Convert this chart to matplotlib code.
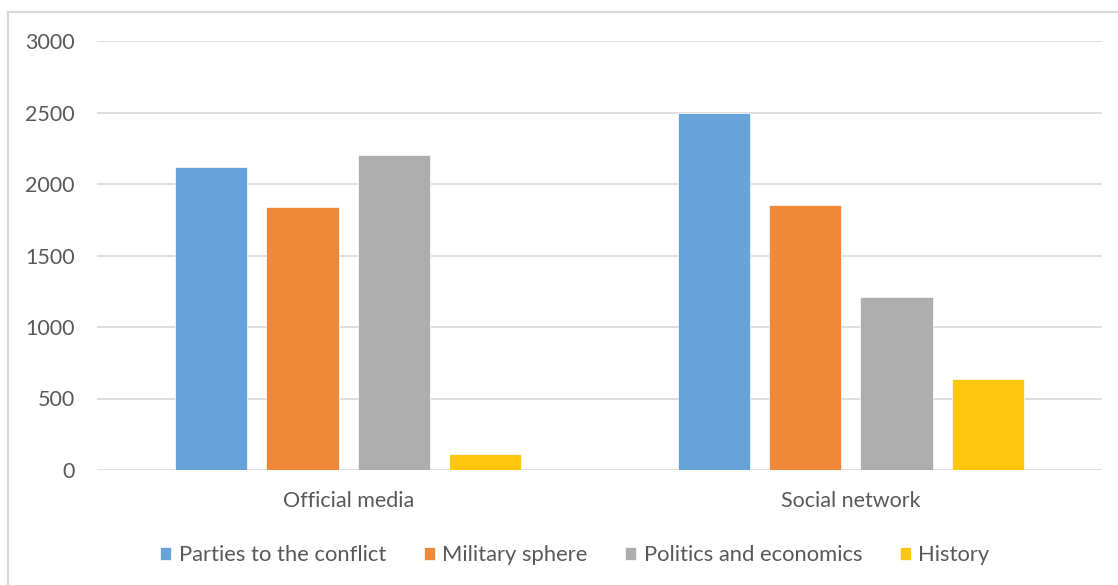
import matplotlib
matplotlib.use("Agg")
import matplotlib.pyplot as plt
import numpy as np
from matplotlib.lines import Line2D

categories = ["Official media", "Social network"]
series_names = ["Parties to the conflict", "Military sphere", "Politics and economics", "History"]
parties = [2120, 2500]
military = [1840, 1855]
politics = [2205, 1210]
history = [115, 635]
yticks = [0, 500, 1000, 1500, 2000, 2500, 3000]

colors = ["#67A3D9", "#F0883A", "#ADAEAD", "#FFC610"]
text_color = "#595959"

plt.rcParams['font.family'] = ['Lato', 'DejaVu Sans']

W, H = 1118, 585
fig = plt.figure(figsize=(W/100, H/100), dpi=100)
ax = fig.add_axes([97/W, 1 - 470/H, (1102-97)/W, (470-41)/H])

values = [parties, military, politics, history]
x = np.arange(len(categories))
step = 0.182
width = 0.1434
for i, (vals, name, c) in enumerate(zip(values, series_names, colors)):
    ax.bar(x + (i - 1.5) * step, vals, width=width, color=c, label=name, zorder=3,
           edgecolor="white", linewidth=0.5)

ax.set_xlim(-0.5, 1.5)
ax.set_ylim(0, 3000)
ax.set_yticks(yticks)
ax.set_yticklabels([str(v) for v in yticks])
ax.set_xticks(x)
ax.set_xticklabels(categories)
ax.grid(axis='y', color="#D9D9D9", linewidth=1.2, zorder=0)
for s in ax.spines.values():
    s.set_visible(False)
ax.tick_params(axis='both', length=0, colors=text_color, labelsize=15.5)
ax.tick_params(axis='y', pad=16)
ax.tick_params(axis='x', pad=15)

leg = fig.legend(loc='center', bbox_to_anchor=(575/W, 1 - 555/H), ncol=4,
                 frameon=False, fontsize=15.8, handlelength=0.5, handleheight=0.55,
                 handletextpad=0.35, columnspacing=1.7)
for t in leg.get_texts():
    t.set_color(text_color)

# outer chart border (top and left visible; right and bottom run off the image)
fig.add_artist(Line2D([8/W, 8/W], [0, 1 - 12/H], transform=fig.transFigure,
                      color="#D9D9D9", linewidth=1.5))
fig.add_artist(Line2D([8/W, 1], [1 - 12/H, 1 - 12/H], transform=fig.transFigure,
                      color="#D9D9D9", linewidth=1.5))

fig.savefig("out.png", dpi=100, facecolor="white")
